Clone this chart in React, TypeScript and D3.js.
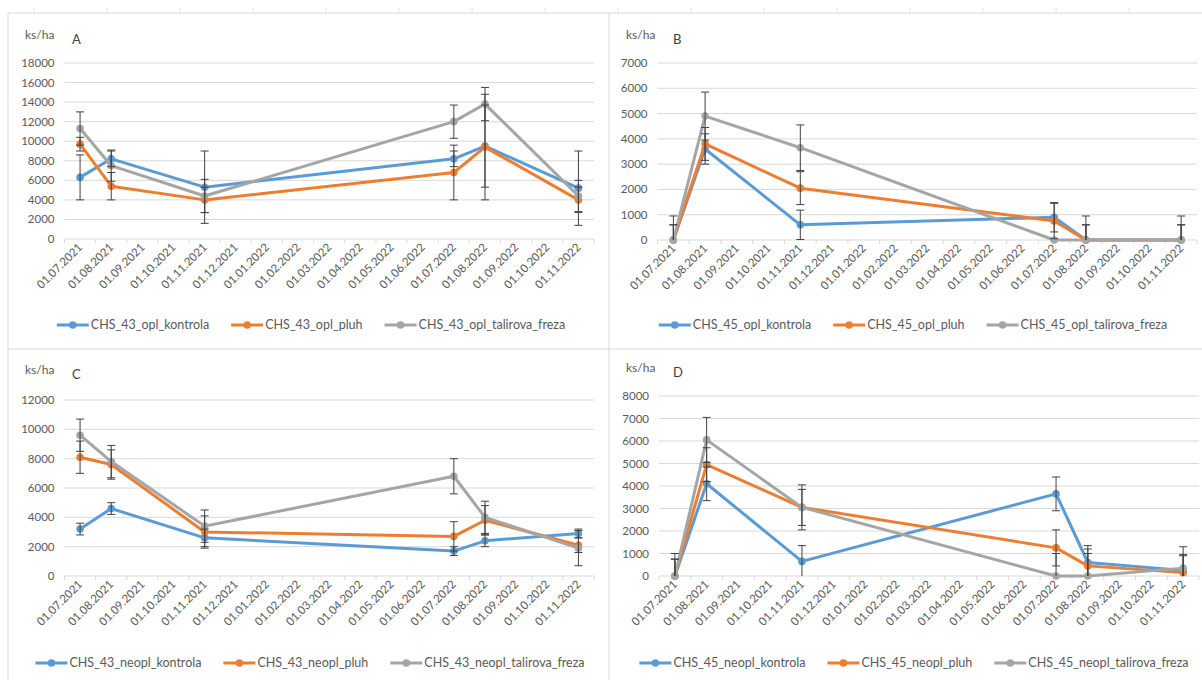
import React from "react";
import * as d3 from "d3";

// ---------- DATA ----------
const MONTH_LABELS = [
  "01.07.2021", "01.08.2021", "01.09.2021", "01.10.2021", "01.11.2021", "01.12.2021",
  "01.01.2022", "01.02.2022", "01.03.2022", "01.04.2022", "01.05.2022", "01.06.2022",
  "01.07.2022", "01.08.2022", "01.09.2022", "01.10.2022", "01.11.2022",
];
const SAMPLE_DATES = ["01.07.2021", "01.08.2021", "01.11.2021", "01.07.2022", "01.08.2022", "01.11.2022"];

const A_kontrola = [6300, 8200, 5300, 8200, 9500, 5200];
const A_kontrola_err = [2300, 800, 3700, 800, 4200, 3800];
const A_pluh = [9700, 5400, 4000, 6800, 9400, 4000];
const A_pluh_err = [700, 1400, 1300, 2800, 5400, 1300];
const A_freza = [11300, 7500, 4400, 12000, 13800, 4400];
const A_freza_err = [1700, 1600, 1700, 1700, 1700, 1600];

const B_kontrola = [0, 3600, 600, 900, 0, 0];
const B_kontrola_err = [600, 600, 580, 580, 600, 600];
const B_pluh = [0, 3800, 2050, 750, 0, 0];
const B_pluh_err = [600, 650, 650, 700, 600, 600];
const B_freza = [0, 4900, 3650, 0, 0, 0];
const B_freza_err = [950, 950, 900, 0, 950, 950];

const C_kontrola = [3200, 4600, 2600, 1700, 2400, 2900];
const C_kontrola_err = [400, 400, 600, 300, 400, 300];
const C_pluh = [8100, 7600, 3000, 2700, 3800, 2100];
const C_pluh_err = [1100, 1000, 1100, 1000, 1000, 500];
const C_freza = [9600, 7800, 3400, 6800, 4000, 1900];
const C_freza_err = [1100, 1100, 1100, 1200, 1100, 1200];

const D_kontrola = [0, 4100, 650, 3650, 600, 250];
const D_kontrola_err = [750, 750, 700, 750, 750, 700];
const D_pluh = [0, 4950, 3050, 1250, 450, 150];
const D_pluh_err = [750, 750, 800, 800, 750, 750];
const D_freza = [0, 6050, 3050, 0, 0, 350];
const D_freza_err = [1000, 1000, 1000, 1000, 1000, 950];

const A_names = ["CHS_43_opl_kontrola", "CHS_43_opl_pluh", "CHS_43_opl_talirova_freza"];
const B_names = ["CHS_45_opl_kontrola", "CHS_45_opl_pluh", "CHS_45_opl_talirova_freza"];
const C_names = ["CHS_43_neopl_kontrola", "CHS_43_neopl_pluh", "CHS_43_neopl_talirova_freza"];
const D_names = ["CHS_45_neopl_kontrola", "CHS_45_neopl_pluh", "CHS_45_neopl_talirova_freza"];

const A_ticks = [0, 2000, 4000, 6000, 8000, 10000, 12000, 14000, 16000, 18000];
const B_ticks = [0, 1000, 2000, 3000, 4000, 5000, 6000, 7000];
const C_ticks = [0, 2000, 4000, 6000, 8000, 10000, 12000];
const D_ticks = [0, 1000, 2000, 3000, 4000, 5000, 6000, 7000, 8000];

// ---------- STYLE ----------
const COLORS = ["#5B9BD5", "#ED7D31", "#A5A5A5"];
const FONT = "Lato, 'Open Sans', sans-serif";
const TEXT = "#595959";
const GRID = "#D9D9D9";

function measure(text: string, size: number) {
  if (typeof document === "undefined") return text.length * size * 0.55;
  const c = (measure as any)._c || ((measure as any)._c = document.createElement("canvas"));
  const ctx = c.getContext("2d");
  ctx.font = `${size}px Lato`;
  return ctx.measureText(text).width;
}

type PanelProps = {
  letter: string;
  panelX0: number; legendCx: number;
  x0: number; x1: number; yTop: number; yBottom: number;
  titleY: number; legendY: number;
  ticks: number[];
  series: number[][]; errs: number[][]; names: string[];
};

function Panel(p: PanelProps) {
  const x = d3.scaleBand<string>().domain(MONTH_LABELS).range([p.x0, p.x1]).padding(0);
  const maxV = p.ticks[p.ticks.length - 1];
  const y = d3.scaleLinear().domain([0, maxV]).range([p.yBottom, p.yTop]);
  const cx = (d: string) => (x(d) as number) + x.bandwidth() / 2;
  const line = d3.line<number>()
    .x((_, i) => cx(SAMPLE_DATES[i]))
    .y((v) => y(v));

  const fs = 11.5;
  const lfs = 12.5;
  const swatch = 32;
  const gapText = 2;
  const gapItem = 22;
  const widths = p.names.map((n) => measure(n, lfs));
  const total = widths.reduce((a, b) => a + b, 0) + p.names.length * (swatch + gapText) + gapItem * (p.names.length - 1);
  let lx = p.legendCx - total / 2;
  const legendItems = p.names.map((n, i) => {
    const item = { x: lx, name: n, color: COLORS[i] };
    lx += swatch + gapText + widths[i] + gapItem;
    return item;
  });

  return (
    <g>
      <text x={p.panelX0 + 17} y={p.titleY} fontSize={12} fill={TEXT} fontFamily={FONT}>ks/ha</text>
      <text x={p.panelX0 + 64} y={p.titleY + 5} fontSize={13} fill="#404040" fontFamily={FONT}>{p.letter}</text>
      {p.ticks.map((t) => (
        <g key={t}>
          <line x1={p.x0} x2={p.x1} y1={y(t)} y2={y(t)} stroke={GRID} strokeWidth={1} />
          <text x={p.x0 - 10} y={y(t)} dy="0.35em" textAnchor="end" fontSize={fs} fill={TEXT} fontFamily={FONT}>{t}</text>
        </g>
      ))}
      {MONTH_LABELS.map((m, i) => (
        <line key={"tk" + i} x1={x(m) as number} x2={x(m) as number} y1={p.yBottom} y2={p.yBottom + 4} stroke={GRID} />
      ))}
      <line x1={p.x1} x2={p.x1} y1={p.yBottom} y2={p.yBottom + 4} stroke={GRID} />
      {MONTH_LABELS.map((m) => (
        <text key={"xl" + m} transform={`translate(${cx(m) + 3},${p.yBottom + 9}) rotate(-45)`} textAnchor="end" fontSize={fs} fill={TEXT} fontFamily={FONT}>{m}</text>
      ))}
      {p.series.map((s, si) => (
        <g key={"s" + si}>
          <path d={line(s) as string} fill="none" stroke={COLORS[si]} strokeWidth={3} strokeLinejoin="round" />
          {s.map((v, i) => (
            <circle key={i} cx={cx(SAMPLE_DATES[i])} cy={y(v)} r={3.8} fill={COLORS[si]} />
          ))}
        </g>
      ))}
      {p.series.map((s, si) => (
        <g key={"e" + si} stroke="#404040" strokeWidth={1}>
          {s.map((v, i) => {
            const e = p.errs[si][i];
            if (!e) return null;
            const xc = cx(SAMPLE_DATES[i]);
            const hi = Math.min(maxV, v + e);
            const lo = Math.max(0, v - e);
            return (
              <g key={i}>
                <line x1={xc} x2={xc} y1={y(lo)} y2={y(hi)} />
                <line x1={xc - 4} x2={xc + 4} y1={y(hi)} y2={y(hi)} />
                {v - e >= 0 && <line x1={xc - 4} x2={xc + 4} y1={y(lo)} y2={y(lo)} />}
              </g>
            );
          })}
        </g>
      ))}
      {legendItems.map((it) => (
        <g key={it.name}>
          <line x1={it.x} x2={it.x + swatch} y1={p.legendY} y2={p.legendY} stroke={it.color} strokeWidth={3} />
          <circle cx={it.x + swatch / 2} cy={p.legendY} r={3.8} fill={it.color} />
          <text x={it.x + swatch + gapText} y={p.legendY} dy="0.35em" fontSize={lfs} fill={TEXT} fontFamily={FONT}>{it.name}</text>
        </g>
      ))}
    </g>
  );
}

export default function App() {
  const topTicks = d3.range(34, 1202, 73);
  return (
    <svg width={1202} height={680} style={{ position: "absolute", left: 0, top: 0, background: "#fff" }}>
      <rect x={0} y={0} width={1202} height={680} fill="#fff" />
      {topTicks.map((t) => (
        <line key={t} x1={t} x2={t} y1={8} y2={13} stroke="#E4E4E4" />
      ))}
      <line x1={8} x2={1202} y1={13} y2={13} stroke={GRID} />
      <line x1={8} x2={1202} y1={349} y2={349} stroke={GRID} />
      <line x1={8} x2={8} y1={13} y2={680} stroke={GRID} />
      <line x1={609} x2={609} y1={13} y2={680} stroke={GRID} />
      <Panel letter="A" panelX0={8} legendCx={311} x0={64.5} x1={594} yTop={63} yBottom={239}
        titleY={39} legendY={325} ticks={A_ticks}
        series={[A_kontrola, A_pluh, A_freza]} errs={[A_kontrola_err, A_pluh_err, A_freza_err]} names={A_names} />
      <Panel letter="B" panelX0={609} legendCx={913} x0={657.5} x1={1197} yTop={63} yBottom={240}
        titleY={39} legendY={325} ticks={B_ticks}
        series={[B_kontrola, B_pluh, B_freza]} errs={[B_kontrola_err, B_pluh_err, B_freza_err]} names={B_names} />
      <Panel letter="C" panelX0={8} legendCx={310} x0={64.5} x1={594} yTop={400} yBottom={576}
        titleY={374} legendY={663} ticks={C_ticks}
        series={[C_kontrola, C_pluh, C_freza]} errs={[C_kontrola_err, C_pluh_err, C_freza_err]} names={C_names} />
      <Panel letter="D" panelX0={609} legendCx={914} x0={659} x1={1199} yTop={396} yBottom={576}
        titleY={372} legendY={663} ticks={D_ticks}
        series={[D_kontrola, D_pluh, D_freza]} errs={[D_kontrola_err, D_pluh_err, D_freza_err]} names={D_names} />
    </svg>
  );
}
